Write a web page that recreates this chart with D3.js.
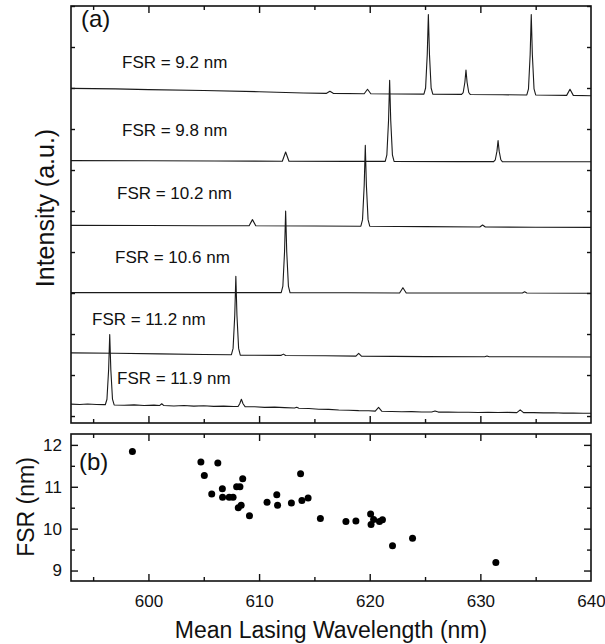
<!DOCTYPE html>
<html><head><meta charset="utf-8">
<script src="https://cdn.jsdelivr.net/npm/d3@7"></script>
<style>
body{margin:0;background:#fff}
text{font-family:"Liberation Sans",Arial,Helvetica,sans-serif;fill:#111}
</style>
</head><body>
<svg id="c" width="605" height="644"></svg>
<script>
// ---------- DATA ----------
// Panel (a): stacked spectra, [wavelength nm, intensity a.u. incl. vertical offset]
const trace92 = [[593,7.99],[597,7.98],[600,7.96],[605,7.94],[610,7.91],[614,7.88],[616.1,7.87],[616.4,7.92],[616.7,7.87],[619.5,7.86],[619.8,7.97],[620.1,7.86],
 [624.9,7.85],[625.05,8.0],[625.2,8.82],[625.3,9.79],[625.4,8.82],[625.55,8.0],[625.7,7.85],
 [628.3,7.845],[628.45,7.89],[628.6,8.14],[628.7,8.44],[628.8,8.14],[628.95,7.89],[629.1,7.84],[632,7.835],
 [634.2,7.83],[634.35,7.98],[634.5,8.81],[634.6,9.79],[634.7,8.81],[634.85,7.98],[635.0,7.83],
 [637.8,7.82],[638.1,7.97],[638.4,7.82],[640,7.81]];
const trace98 = [[593,6.23],[600,6.225],[606,6.22],[612.1,6.215],[612.4,6.44],[612.7,6.215],[618,6.21],
 [621.4,6.21],[621.55,6.37],[621.7,7.2],[621.8,8.19],[621.9,7.2],[622.05,6.37],[622.2,6.21],[628,6.205],
 [631.2,6.205],[631.35,6.25],[631.5,6.46],[631.6,6.72],[631.7,6.46],[631.85,6.25],[632.0,6.2],[640,6.2]];
const trace102 = [[593,4.65],[600,4.645],[605,4.64],[609.1,4.64],[609.4,4.79],[609.7,4.64],[615,4.635],
 [619.2,4.63],[619.35,4.79],[619.5,5.62],[619.6,6.6],[619.7,5.62],[619.85,4.79],[620.0,4.63],
 [625,4.62],[629.95,4.61],[630.2,4.66],[630.45,4.61],[635,4.605],[640,4.6]];
const trace106 = [[593,3.01],[600,3.01],[606,3.01],
 [612.0,3.01],[612.15,3.17],[612.3,4.0],[612.4,5.0],[612.5,4.0],[612.65,3.17],[612.8,3.005],
 [618,3.005],[622.7,3.0],[623.0,3.13],[623.3,3.0],[628,3.0],[633.8,3.0],[634.0,3.03],[634.2,3.0],[640,2.995]];
const trace112 = [[593,1.54],[597,1.53],[601,1.515],[605,1.5],
 [607.5,1.495],[607.65,1.65],[607.8,2.45],[607.9,3.41],[608.0,2.45],[608.15,1.65],[608.3,1.485],
 [612.0,1.48],[612.2,1.51],[612.4,1.478],[616,1.47],[618.75,1.46],[619.0,1.53],[619.25,1.46],
 [625,1.45],[630.4,1.445],[630.6,1.465],[630.8,1.445],[640,1.44]];
const trace119 = [[593,0.29],[593.8,0.282],[594.5,0.292],[595.3,0.28],[596.0,0.278],
 [596.1,0.275],[596.25,0.41],[596.4,1.13],[596.5,1.99],[596.6,1.13],[596.75,0.41],[596.9,0.27],
 [597.8,0.262],[598.7,0.272],[599.6,0.258],[600.5,0.266],[601.0,0.255],[601.2,0.3],[601.4,0.255],
 [602.3,0.244],[603.2,0.258],[604.1,0.242],[605.0,0.25],[605.9,0.236],[606.8,0.242],[607.7,0.232],
 [608.1,0.232],[608.25,0.3],[608.4,0.41],[608.55,0.3],[608.75,0.225],
 [609.6,0.225],[610.5,0.212],[611.4,0.216],[612.3,0.204],[613.2,0.196],[613.4,0.215],[613.6,0.19],
 [614.5,0.182],[615.4,0.166],[616.3,0.162],[617.2,0.148],[618.1,0.142],[619.0,0.132],[619.9,0.128],
 [620.5,0.12],[620.8,0.21],[621.1,0.115],[622.0,0.112],[622.9,0.104],[623.8,0.108],[624.7,0.099],
 [625.6,0.1],[625.9,0.125],[626.2,0.096],[627.1,0.1],[628.0,0.091],[628.9,0.094],[629.8,0.087],
 [630.7,0.092],[631.6,0.085],[632.5,0.089],[633.3,0.084],[633.6,0.15],[633.9,0.082],[634.8,0.084],
 [635.7,0.076],[636.6,0.079],[637.5,0.07],[638.4,0.074],[639.3,0.066],[640,0.066]];
const traceLabels = ["FSR = 9.2 nm","FSR = 9.8 nm","FSR = 10.2 nm","FSR = 10.6 nm","FSR = 11.2 nm","FSR = 11.9 nm"];

// Panel (b): mean lasing wavelength (nm) vs FSR (nm)
const meanWavelength = [598.55,604.74,606.27,605.05,608.52,613.75,606.68,607.97,608.27,605.72,611.6,606.7,607.3,607.65,614.43,610.72,612.92,613.87,611.67,608.38,608.12,609.13,615.54,617.85,618.75,620.08,620.35,620.12,620.88,621.15,622.06,623.87,631.4];
const fsrValues = [11.84,11.59,11.57,11.27,11.19,11.31,10.95,11.0,11.0,10.83,10.81,10.75,10.75,10.75,10.73,10.63,10.61,10.67,10.56,10.56,10.5,10.31,10.24,10.17,10.18,10.35,10.22,10.1,10.17,10.21,9.59,9.77,9.19];

// Ticks
const xMajorTicks = [600,610,620,630,640];
const xMinorTicks = [595,605,615,625,635];
const yTopTicks = [0,1,2,3,4,5,6,7,8,9,10];
const yBottomMajor = [9,10,11,12];
const yBottomMinor = [9.5,10.5,11.5];

// ---------- LAYOUT ----------
const svg = d3.select("#c");
const L = 71, R = 591;
const T1 = 6, B1 = 423;     // panel (a)
const T2 = 434, B2 = 581;   // panel (b)
const x = d3.scaleLinear().domain([593,640]).range([L,R]);
const y1 = d3.scaleLinear().domain([-0.17,10]).range([B1,T1]);
const y2 = d3.scaleLinear().domain([8.75,12.26]).range([B2,T2]);

function styleAxis(g){
  g.select(".domain").remove();
  g.selectAll(".tick line").attr("stroke","#111").attr("stroke-width",1.4);
  g.selectAll(".tick text").attr("font-size",17).attr("fill","#111")
   .style("font-family",'"Liberation Sans",Arial,sans-serif');
}
function xTicks(top, bottom, withLabels){
  const gb = svg.append("g").attr("transform",`translate(0,${bottom})`)
    .call(d3.axisBottom(x).tickValues(xMajorTicks.filter(v=>v<640)).tickSize(-7).tickPadding(14).tickFormat(withLabels?d3.format("d"):""));
  styleAxis(gb);
  if(withLabels){
    const gl = svg.append("g").attr("transform",`translate(0,${bottom})`)
      .call(d3.axisBottom(x).tickValues([640]).tickSize(0).tickPadding(14).tickFormat(d3.format("d")));
    styleAxis(gl);
  }
  styleAxis(svg.append("g").attr("transform",`translate(0,${bottom})`)
    .call(d3.axisBottom(x).tickValues(xMinorTicks).tickSize(-4).tickFormat("")));
  styleAxis(svg.append("g").attr("transform",`translate(0,${top})`)
    .call(d3.axisTop(x).tickValues(xMajorTicks.filter(v=>v<640)).tickSize(-7).tickFormat("")));
  styleAxis(svg.append("g").attr("transform",`translate(0,${top})`)
    .call(d3.axisTop(x).tickValues(xMinorTicks).tickSize(-4).tickFormat("")));
}

// ---------- PANEL (a) ----------
xTicks(T1, B1, false);
styleAxis(svg.append("g").attr("transform",`translate(${L},0)`)
  .call(d3.axisLeft(y1).tickValues(yTopTicks).tickSize(-4).tickFormat("")));
styleAxis(svg.append("g").attr("transform",`translate(${R},0)`)
  .call(d3.axisRight(y1).tickValues(yTopTicks).tickSize(-4).tickFormat("")));

const line = d3.line().x(d=>x(d[0])).y(d=>y1(d[1]));
const traces = [trace92,trace98,trace102,trace106,trace112,trace119];
svg.append("g").selectAll("path").data(traces).join("path")
  .attr("d",line).attr("fill","none").attr("stroke","#1a1a1a").attr("stroke-width",1.1)
  .attr("stroke-linejoin","round");

const labelPos = [[122,68],[122,136],[117,199],[115,263],[92,325],[117,384]];
svg.append("g").selectAll("text").data(traceLabels).join("text")
  .attr("x",(d,i)=>labelPos[i][0]).attr("y",(d,i)=>labelPos[i][1])
  .attr("font-size",17).text(d=>d);

svg.append("text").attr("x",81).attr("y",27).attr("font-size",24).text("(a)");
svg.append("rect").attr("x",L).attr("y",T1).attr("width",R-L).attr("height",B1-T1)
  .attr("fill","none").attr("stroke","#111").attr("stroke-width",1.6);
svg.append("text").attr("transform",`translate(54,208) rotate(-90)`)
  .attr("text-anchor","middle").attr("font-size",25).text("Intensity (a.u.)");

// ---------- PANEL (b) ----------
xTicks(T2, B2, true);
styleAxis(svg.append("g").attr("transform",`translate(${L},0)`)
  .call(d3.axisLeft(y2).tickValues(yBottomMajor).tickSize(-7).tickPadding(9).tickFormat(d3.format("d"))));
styleAxis(svg.append("g").attr("transform",`translate(${L},0)`)
  .call(d3.axisLeft(y2).tickValues(yBottomMinor).tickSize(-4).tickFormat("")));
styleAxis(svg.append("g").attr("transform",`translate(${R},0)`)
  .call(d3.axisRight(y2).tickValues(yBottomMajor).tickSize(-7).tickFormat("")));
styleAxis(svg.append("g").attr("transform",`translate(${R},0)`)
  .call(d3.axisRight(y2).tickValues(yBottomMinor).tickSize(-4).tickFormat("")));

svg.append("g").selectAll("circle").data(meanWavelength).join("circle")
  .attr("cx",d=>x(d)).attr("cy",(d,i)=>y2(fsrValues[i])).attr("r",3.5).attr("fill","#000");

svg.append("text").attr("x",79).attr("y",470).attr("font-size",24).text("(b)");
svg.append("rect").attr("x",L).attr("y",T2).attr("width",R-L).attr("height",B2-T2)
  .attr("fill","none").attr("stroke","#111").attr("stroke-width",1.6);
svg.append("text").attr("transform",`translate(34,507) rotate(-90)`)
  .attr("text-anchor","middle").attr("font-size",23).text("FSR (nm)");
svg.append("text").attr("x",(L+R)/2).attr("y",638).attr("text-anchor","middle")
  .attr("font-size",23).text("Mean Lasing Wavelength (nm)");
</script>
</body></html>
